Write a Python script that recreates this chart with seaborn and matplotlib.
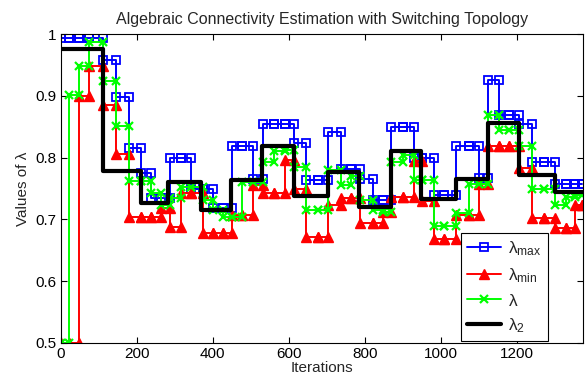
import matplotlib
matplotlib.use("Agg")
import matplotlib.pyplot as plt
import numpy as np
import pandas as pd
import seaborn as sns

# sample iterations (shared by the three estimates)
iters = [0, 22, 47, 73, 111, 146, 179, 211, 238, 264, 286, 317, 343, 373, 400, 426,
         450, 478, 505, 532, 562, 589, 615, 646, 676, 702, 737, 764, 788, 821, 847,
         869, 900, 930, 951, 983, 1009, 1040, 1075, 1101, 1124, 1153, 1180, 1206,
         1241, 1272, 1302, 1329, 1355, 1372]

lam_max = [0.993, 0.993, 0.993, 0.993, 0.958, 0.898, 0.815, 0.775, 0.735, 0.735,
           0.800, 0.800, 0.749, 0.749, 0.718, 0.718, 0.818, 0.818, 0.765, 0.854,
           0.854, 0.854, 0.823, 0.764, 0.764, 0.841, 0.781, 0.781, 0.765, 0.731,
           0.731, 0.849, 0.849, 0.799, 0.799, 0.739, 0.739, 0.819, 0.819, 0.767,
           0.925, 0.869, 0.869, 0.854, 0.793, 0.793, 0.757, 0.757, 0.757, 0.757]

lam_min = [0.500, 0.500, 0.899, 0.948, 0.885, 0.806, 0.704, 0.704, 0.704, 0.718,
           0.688, 0.743, 0.743, 0.678, 0.678, 0.678, 0.707, 0.707, 0.755, 0.742,
           0.742, 0.796, 0.750, 0.671, 0.671, 0.723, 0.734, 0.734, 0.694, 0.694,
           0.712, 0.737, 0.737, 0.795, 0.729, 0.669, 0.669, 0.707, 0.707, 0.758,
           0.818, 0.818, 0.818, 0.783, 0.702, 0.702, 0.686, 0.686, 0.723, 0.723]

lam_est = [0.500, 0.902, 0.949, 0.987, 0.924, 0.851, 0.762, 0.762, 0.743, 0.723,
           0.735, 0.752, 0.752, 0.731, 0.715, 0.704, 0.704, 0.761, 0.761, 0.793,
           0.810, 0.812, 0.785, 0.715, 0.715, 0.780, 0.756, 0.771, 0.731, 0.715,
           0.712, 0.793, 0.804, 0.764, 0.764, 0.690, 0.690, 0.710, 0.757, 0.757,
           0.869, 0.845, 0.845, 0.818, 0.750, 0.750, 0.723, 0.736, 0.740, 0.740]

# true algebraic connectivity, one value per topology
switch_iters = [0, 111, 211, 283, 370, 448, 530, 615, 702, 786, 869, 949, 1041,
                1124, 1206, 1302, 1375]
lam2 = [0.976, 0.779, 0.727, 0.761, 0.715, 0.764, 0.818, 0.738, 0.777, 0.720,
        0.810, 0.733, 0.765, 0.856, 0.772, 0.745, 0.745]


def stairs(x, y):
    # matlab style stairs: markers end up on every corner
    xs = np.repeat(np.asarray(x, float), 2)[1:]
    ys = np.repeat(np.asarray(y, float), 2)[:-1]
    return pd.DataFrame({"x": xs, "y": ys})


sns.set_style("ticks")
plt.rcParams["font.family"] = ["Liberation Sans", "DejaVu Sans"]
plt.rcParams["mathtext.fontset"] = "custom"
plt.rcParams["mathtext.rm"] = "Liberation Sans"
plt.rcParams["mathtext.it"] = "Liberation Sans:italic"
plt.rcParams["mathtext.default"] = "rm"

fig = plt.figure(figsize=(5.86, 3.81), dpi=100)
ax = fig.add_axes([61 / 586, 1 - 343 / 381, 522 / 586, 309 / 381])

sns.lineplot(data=stairs(iters, lam_max), x="x", y="y", sort=False, estimator=None,
             ax=ax, color=(0, 0, 1), lw=1.4, marker="s", ms=5.5, mfc="none",
             mec=(0, 0, 1), mew=1.3, label=r"$\lambda_{max}$")
sns.lineplot(data=stairs(iters, lam_min), x="x", y="y", sort=False, estimator=None,
             ax=ax, color=(1, 0, 0), lw=1.4, marker="^", ms=6.5, mfc=(1, 0, 0),
             mec=(1, 0, 0), mew=1.0, label=r"$\lambda_{min}$")
sns.lineplot(data=stairs(iters, lam_est), x="x", y="y", sort=False, estimator=None,
             ax=ax, color=(0, 1, 0), lw=1.4, marker="x", ms=6, mec=(0, 1, 0),
             mew=1.6, label=r"$\lambda$")
sns.lineplot(x=switch_iters, y=lam2, ax=ax, color="k", lw=3,
             drawstyle="steps-post", label=r"$\lambda_2$")

ax.set_xlim(0, 1375)
ax.set_ylim(0.5, 1.0)
ax.set_xticks([0, 200, 400, 600, 800, 1000, 1200])
ax.set_yticks([0.5, 0.6, 0.7, 0.8, 0.9, 1.0])
ax.set_yticklabels(["0.5", "0.6", "0.7", "0.8", "0.9", "1"])
ax.tick_params(direction="in", top=True, right=True, length=4, width=0.8,
               labelsize=11, pad=3, colors="k")
for s in ax.spines.values():
    s.set_color("k")
    s.set_linewidth(0.8)

ax.set_title("Algebraic Connectivity Estimation with Switching Topology",
             fontsize=11.5, pad=7)
ax.set_xlabel("Iterations", fontsize=11, labelpad=0)
ax.set_ylabel("Values of λ", fontsize=11, labelpad=4)

leg = ax.legend(loc="lower right", bbox_to_anchor=(0.933, 0.006), fontsize=12.5,
                fancybox=False, framealpha=1, edgecolor="k", handlelength=2.0,
                borderpad=0.35, labelspacing=0.45, handletextpad=0.4,
                borderaxespad=0)
leg.get_frame().set_linewidth(0.8)

fig.savefig("out.png", dpi=100)
